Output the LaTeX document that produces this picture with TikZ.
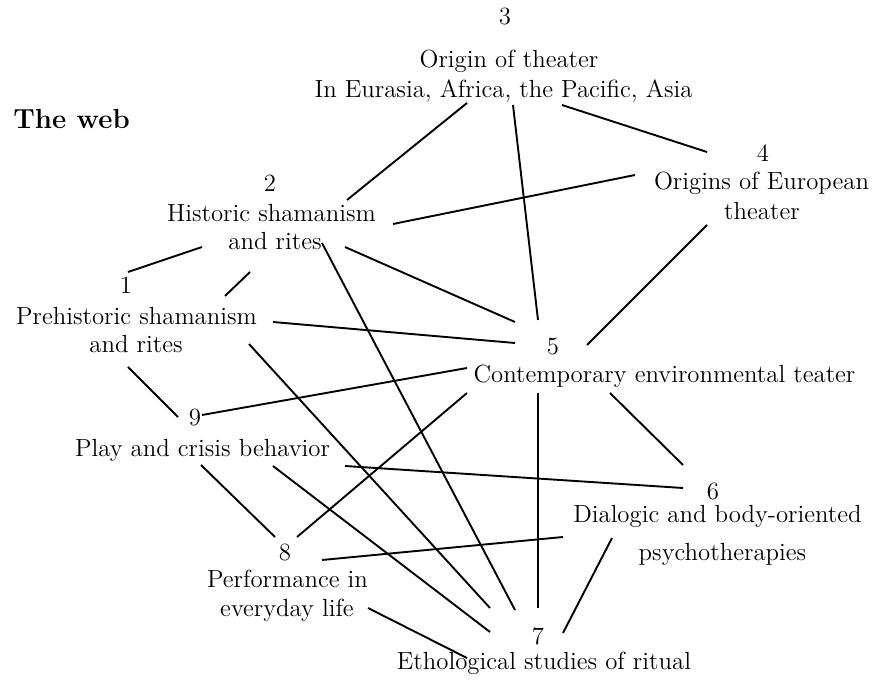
\documentclass[tikz,border=0pt]{standalone}
\usepackage{tikz}

\begin{document}
\begin{tikzpicture}[
  x=0.5pt, y=-0.5pt,
  lbl/.style={anchor=base, inner sep=0pt, font=\fontsize{12.4}{14}\selectfont},
  num/.style={lbl},
  link/.style={line width=0.95pt}
]
\useasboundingbox (0,0) rectangle (874,684);
\node[anchor=base west, inner sep=0pt, font=\fontsize{13.8}{16}\selectfont\bfseries] (web) at (13,129) {The web};
% the nine fields
\node[num] (n3)  at (505,25)    {3};
\node[lbl] (t3a) at (509,68)    {Origin of theater};
\node[lbl] (t3b) at (503.5,98)  {In Eurasia, Africa, the Pacific, Asia};
\node[num] (n2)  at (270,192)   {2};
\node[lbl] (t2a) at (271.5,222) {Historic shamanism};
\node[lbl] (t2b) at (275,250)   {and rites};
\node[num] (n1)  at (126,294)   {1};
\node[lbl] (t1a) at (136.5,325) {Prehistoric shamanism};
\node[lbl] (t1b) at (136,353)   {and rites};
\node[num] (n4)  at (763,162)   {4};
\node[lbl] (t4a) at (761.5,190) {Origins of European};
\node[lbl] (t4b) at (762,220)   {theater};
\node[num] (n5)  at (553,355)   {5};
\node[lbl] (t5)  at (664.5,383) {Contemporary environmental teater};
\node[num] (n9)  at (195,426)   {9};
\node[lbl] (t9)  at (202.5,457) {Play and crisis behavior};
\node[num] (n6)  at (713,500)   {6};
\node[lbl] (t6a) at (717.5,523) {Dialogic and body-oriented};
\node[lbl] (t6b) at (722.5,560) {psychotherapies};
\node[num] (n8)  at (285,560)   {8};
\node[lbl] (t8a) at (287.5,588) {Performance in};
\node[lbl] (t8b) at (287,617)   {everyday life};
\node[num] (n7)  at (538,644)   {7};
\node[lbl] (t7)  at (544,669)   {Ethological studies of ritual};
% the web of links
\draw[link] ([shift={(75.5,-22)}]t2a.base) -- ([shift={(-36.5,5)}]t3b.base);
\draw[link] ([shift={(121.5,2)}]t2a.base) -- ([shift={(-126.5,-15)}]t4a.base);
\draw[link] ([shift={(-73,-3)}]t2b.base) -- ([shift={(2,-22)}]n1.base);
\draw[link] ([shift={(-25,22)}]t2b.base) -- ([shift={(88.5,-29)}]t1a.base);
\draw[link] ([shift={(47,-7)}]t2b.base) -- ([shift={(-23,-34)}]n7.base);
\draw[link] ([shift={(70,-3)}]t2b.base) -- ([shift={(-38,-33)}]n5.base);
\draw[link] ([shift={(9.5,7)}]t3b.base) -- ([shift={(-15,-35)}]n5.base);
\draw[link] ([shift={(58.5,7)}]t3b.base) -- ([shift={(-56,-10)}]n4.base);
\draw[link] ([shift={(-55,5)}]t4b.base) -- ([shift={(34,-10)}]n5.base);
\draw[link] ([shift={(136.5,-3)}]t1a.base) -- ([shift={(-38,-12)}]n5.base);
\draw[link] ([shift={(7,-11)}]n9.base) -- ([shift={(-197.5,-15)}]t5.base);
\draw[link] ([shift={(12,-23)}]n8.base) -- ([shift={(-197.5,10)}]t5.base);
\draw[link] ([shift={(-54.5,10)}]t5.base) -- ([shift={(-30,-35)}]n6.base);
\draw[link] ([shift={(-126.5,10)}]t5.base) -- ([shift={(0,-36)}]n7.base);
\draw[link] ([shift={(142.5,9)}]t9.base) -- ([shift={(-30,-12)}]n6.base);
\draw[link] ([shift={(37,0)}]n8.base) -- ([shift={(-154.5,14)}]t6a.base);
\draw[link] ([shift={(-105.5,15)}]t6a.base) -- ([shift={(25,-11)}]n7.base);
\draw[link] ([shift={(-8,14)}]t1b.base) -- ([shift={(-17,-9)}]n9.base);
\draw[link] ([shift={(-1.5,8)}]t9.base) -- ([shift={(-10,-23)}]n8.base);
\draw[link] ([shift={(70.5,9)}]t9.base) -- ([shift={(-48,-12)}]n7.base);
\draw[link] ([shift={(81,-9)}]t8b.base) -- ([shift={(-77,-11)}]t7.base);
\draw[link] ([shift={(113,-9)}]t1b.base) -- ([shift={(-48,-36)}]n7.base);
\end{tikzpicture}
\end{document}
